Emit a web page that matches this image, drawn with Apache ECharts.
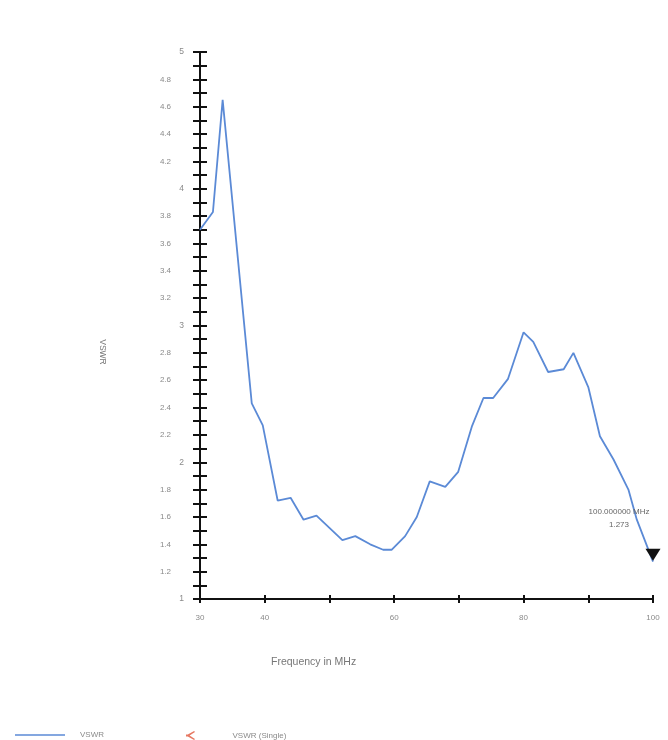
<!DOCTYPE html>
<html>
<head>
<meta charset="utf-8">
<script src="https://cdn.jsdelivr.net/npm/echarts@6/dist/echarts.min.js"></script>
<style>html,body{margin:0;padding:0;background:#fff;}#c{width:668px;height:740px;}</style>
</head>
<body>
<div id="c"></div>
<script>
var freq = [30, 32, 33.5, 38, 39.7, 42, 44, 46, 48, 50, 52, 54, 56.3, 58.3, 59.6, 61.7, 63.5, 65.5, 67.9, 69.9, 72, 73.8, 75.3, 77.6, 80, 81.5, 83.8, 86.2, 87.7, 90, 91.8, 93.9, 96.2, 97.5, 100];
var vswr = [3.70, 3.83, 4.65, 2.43, 2.27, 1.72, 1.74, 1.58, 1.61, 1.52, 1.43, 1.46, 1.40, 1.36, 1.36, 1.46, 1.60, 1.86, 1.82, 1.93, 2.26, 2.47, 2.47, 2.61, 2.95, 2.88, 2.66, 2.68, 2.80, 2.55, 2.19, 2.02, 1.80, 1.58, 1.273];
var xTickLabels = [30, 40, 60, 80, 100];
var markerFreq = 100;
var markerValue = 1.273;
var markerLabel = '100.000000 MHz\n1.273';

var lineData = freq.map(function (f, i) { return [f, vswr[i]]; });
var font = 'Liberation Sans, Arial, sans-serif';
var grey = '#8a8a8a';

var yCommon = {
  type: 'value', min: 1, max: 5, interval: 0.1, position: 'left',
  axisLine: { show: true, lineStyle: { color: '#111', width: 2 } },
  splitLine: { show: false }
};

var chart = echarts.init(document.getElementById('c'));
chart.setOption({
  animation: false,
  backgroundColor: '#fff',
  grid: { left: 200, right: 15, top: 52, bottom: 141 },
  xAxis: [{
    type: 'value', min: 30, max: 100, interval: 10,
    axisLine: { show: true, lineStyle: { color: '#111', width: 2 } },
    axisTick: { show: true, length: 4, lineStyle: { color: '#111', width: 2 } },
    splitLine: { show: false },
    axisLabel: {
      margin: 15, color: grey, fontSize: 8, fontFamily: font,
      formatter: function (v) { return xTickLabels.indexOf(Math.round(v)) >= 0 ? String(Math.round(v)) : ''; }
    }
  }, {
    type: 'value', min: 30, max: 100, interval: 10, position: 'bottom',
    axisLine: { show: false },
    axisTick: { show: true, inside: true, length: 4, lineStyle: { color: '#111', width: 2 } },
    axisLabel: { show: false }, splitLine: { show: false }
  }],
  yAxis: [Object.assign({}, yCommon, {
    axisTick: { show: true, length: 7, lineStyle: { color: '#111', width: 2 } },
    axisLabel: {
      margin: 16, color: grey, fontSize: 8, fontFamily: font,
      formatter: function (v) {
        var t = Math.round(v * 10);
        if (t % 2 !== 0) return '';
        var s = (t / 10).toString();
        return t % 10 === 0 ? '{i|' + s + '}' : '{d|' + s + '}';
      },
      rich: {
        i: { color: grey, fontSize: 8.5, fontFamily: font },
        d: { color: grey, fontSize: 8, fontFamily: font, padding: [0, 13, 0, 0] }
      }
    }
  }), Object.assign({}, yCommon, {
    axisLine: { show: false },
    axisTick: { show: true, inside: true, length: 7, lineStyle: { color: '#111', width: 2 } },
    axisLabel: { show: false }
  })],
  legend: [{
    left: 10, top: 726, itemWidth: 50, itemHeight: 12, itemGap: 20,
    textStyle: { color: grey, fontSize: 8, fontFamily: font, padding: [0, 0, 0, 10] },
    data: [{ name: 'VSWR', icon: 'path://M0,0L50,0L50,1.5L0,1.5Z' }]
  }, {
    left: 181, top: 726, itemWidth: 10, itemHeight: 9, itemGap: 20,
    textStyle: { color: grey, fontSize: 8, fontFamily: font, padding: [0, 0, 0, 32] },
    data: [{ name: 'VSWR (Single)', icon: 'path://M10,0L4,4L10,8L9,9L2,5L0,5L0,3L2,3L9,-1Z' }]
  }],
  series: [{
    name: 'VSWR', type: 'line', data: lineData, xAxisIndex: 0, yAxisIndex: 0,
    symbol: 'none', smooth: false,
    lineStyle: { color: '#5b8ad6', width: 1.8 },
    itemStyle: { color: '#5b8ad6' },
    markPoint: {
      symbol: 'triangle', symbolRotate: 180, symbolSize: [15, 12], symbolOffset: [0, -7],
      itemStyle: { color: '#111' },
      label: {
        show: true, position: 'top', distance: 17, color: '#666', fontSize: 8, fontFamily: font,
        lineHeight: 13, offset: [-34, 0], align: 'center',
        formatter: function () { return markerLabel; }
      },
      data: [{ coord: [markerFreq, markerValue] }]
    },
    z: 3
  }, {
    name: 'VSWR (Single)', type: 'scatter', data: [], itemStyle: { color: '#e0563b' }
  }],
  graphic: [{
    type: 'text', left: 271, top: 657,
    style: { text: 'Frequency in MHz', fill: '#777', fontSize: 10.5, fontFamily: font }
  }, {
    type: 'text', x: 102, y: 352, rotation: -Math.PI / 2,
    style: { text: 'VSWR', fill: '#777', fontSize: 8.5, fontFamily: font, align: 'center', verticalAlign: 'middle' }
  }]
});
</script>
</body>
</html>
